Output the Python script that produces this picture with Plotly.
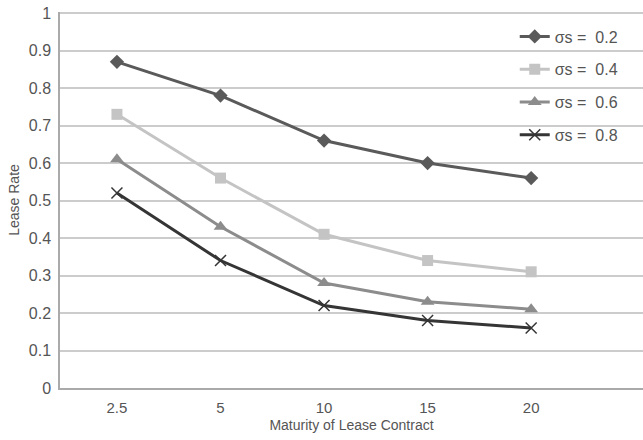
import plotly.graph_objects as go

categories = ["2.5", "5", "10", "15", "20"]
series_names = ["σs =  0.2", "σs =  0.4", "σs =  0.6", "σs =  0.8"]
s02 = [0.87, 0.78, 0.66, 0.60, 0.56]
s04 = [0.73, 0.56, 0.41, 0.34, 0.31]
s06 = [0.61, 0.43, 0.28, 0.23, 0.21]
s08 = [0.52, 0.34, 0.22, 0.18, 0.16]
y_ticks = [0, 0.1, 0.2, 0.3, 0.4, 0.5, 0.6, 0.7, 0.8, 0.9, 1]
y_ticklabels = ["0", "0.1", "0.2", "0.3", "0.4", "0.5", "0.6", "0.7", "0.8", "0.9", "1"]

colors = ["#5a5a5a", "#c4c4c4", "#8c8c8c", "#353535"]
symbols = ["diamond", "square", "triangle-up", "x-thin"]
sizes = [11, 11, 12, 11]

xpos = list(range(len(categories)))
fig = go.Figure()
for i, (name, vals) in enumerate(zip(series_names, [s02, s04, s06, s08])):
    marker = dict(symbol=symbols[i], size=sizes[i], color=colors[i])
    if symbols[i] == "x-thin":
        marker["line"] = dict(width=1.5, color=colors[i])
    fig.add_trace(go.Scatter(
        x=xpos, y=vals, name=name, mode="lines+markers",
        line=dict(color=colors[i], width=3),
        marker=marker, legendgroup=f"g{i}",
    ))

fig.update_layout(
    width=643, height=440,
    margin=dict(l=60, r=0, t=12, b=52),
    paper_bgcolor="white", plot_bgcolor="white",
    font=dict(family="Liberation Sans, Arial, sans-serif", color="#555555", size=14),
    showlegend=True,
    legend=dict(x=0.78, y=0.98, xanchor="left", yanchor="top",
                bgcolor="rgba(0,0,0,0)", font=dict(size=16, color="#555555"),
                tracegroupgap=9, itemwidth=30),
    xaxis=dict(
        tickmode="array", tickvals=xpos, ticktext=categories,
        range=[-0.55, 5.08], showgrid=False, zeroline=False,
        showline=True, linecolor="#aaaaaa", linewidth=1.5,
        ticks="", tickfont=dict(size=15, color="#555555"), ticklabelstandoff=5,
        title=dict(text="Maturity of Lease Contract", font=dict(size=14, color="#555555"), standoff=5),
    ),
    yaxis=dict(
        tickmode="array", tickvals=y_ticks, ticktext=y_ticklabels,
        range=[0, 1.003], showgrid=True, gridcolor="#cccccc", gridwidth=1.5,
        zeroline=False, showline=True, linecolor="#aaaaaa", linewidth=1.5,
        ticks="", tickfont=dict(size=16, color="#555555"), ticklabelstandoff=4,
        title=dict(text="Lease Rate", font=dict(size=14, color="#555555"), standoff=6),
    ),
)

fig.write_html("out.html", config={"displayModeBar": False},
               post_script="document.body.style.margin='0px';")
